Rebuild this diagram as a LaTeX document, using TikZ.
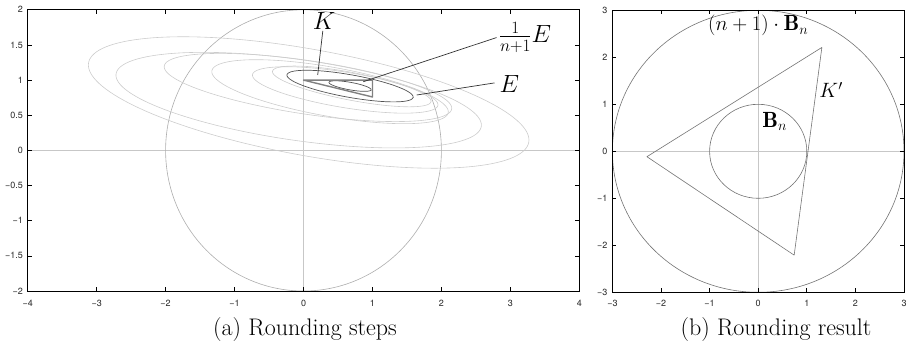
\documentclass[tikz,border=0pt]{standalone}
\usepackage{fontspec}
\newfontfamily\tickfont{TeX Gyre Heros}
\newcommand\myell[6]{\draw[#1] plot[domain=0:360,samples=150,variable=\t] ({#2+#4*cos(\t)},{#3+#5*cos(\t)+#6*sin(\t)}) -- cycle;}
\begin{document}
\begin{tikzpicture}[x=1pt,y=1pt,
  frame/.style={black, line width=0.9pt},
  tickmark/.style={black, line width=0.7pt},
  ticklab/.style={font=\tickfont\fontsize{9}{9}\selectfont, text=black!85, inner sep=0pt},
  axisline/.style={black!22, line width=0.6pt},
  iter/.style={black!20, line width=0.6pt},
  ballstyle/.style={black!32, line width=0.6pt},
  ellE/.style={black!68, line width=0.7pt},
  body/.style={black!50, line width=1.4pt},
  leader/.style={black!80, line width=0.7pt},
  lab/.style={font=\fontsize{26}{26}\selectfont, inner sep=0pt},
  labb/.style={font=\fontsize{22}{22}\selectfont, inner sep=0pt},
  captext/.style={font=\fontsize{24}{24}\selectfont, inner sep=0pt},
  curveb/.style={black!55, line width=0.6pt}
]
\useasboundingbox (0,0) rectangle (908,346);

% ---------------- left plot ----------------
\begin{scope}[shift={(303.5,195.6)}, x=68.95pt, y=70.3pt]
  \draw[axisline] (-4,0) -- (4,0);
  \draw[axisline] (0,-2) -- (0,2);
  \draw[ballstyle] (0,0) circle [x radius=2, y radius=2];
  \myell{iter}{0.075}{0.6815}{3.195}{-0.5335}{0.768}
  \myell{iter}{-0.07}{0.715}{2.65}{-0.355}{0.58}
  \myell{iter}{0.065}{0.895}{2.085}{-0.295}{0.385}
  \myell{iter}{0.385}{0.835}{1.715}{-0.285}{0.355}
  \myell{iter}{0.605}{0.86}{1.345}{-0.21}{0.255}
  \myell{iter}{0.7}{0.91}{1.15}{-0.21}{0.2}
  \myell{ellE}{0.675}{0.915}{0.915}{-0.155}{0.163}
  \myell{ellE}{0.675}{0.915}{0.305}{-0.0517}{0.0543}
  \draw[body, line join=round] (0,1) -- (1,1) -- (1,0.76) -- cycle;
  % frame and ticks
  \draw[frame] (-4,-2) rectangle (4,2);
  \foreach \v [count=\k] in {-3,-2,-1,0,1,2,3} {
    \draw[tickmark] (\v,-2) -- ++(0,0.057);
    \draw[tickmark] (\v,2) -- ++(0,-0.057);
  }
  \foreach \v in {-1.5,-1,-0.5,0,0.5,1,1.5} {
    \draw[tickmark] (-4,\v) -- ++(0.058,0);
    \draw[tickmark] (4,\v) -- ++(-0.058,0);
  }
  \foreach \v/\t [count=\k] in {-4/−4,-3/−3,-2/−2,-1/−1,0/0,1/1,2/2,3/3,4/4}
    \node[ticklab, anchor=north] (axl\k) at (\v,-2.12) {\t};
  \foreach \v/\t [count=\k] in {-2/−2,-1.5/−1.5,-1/−1,-0.5/−0.5,0/0,0.5/0.5,1/1,1.5/1.5,2/2}
    \node[ticklab, anchor=east] (ayl\k) at (-4.068,\v) {\t};
  % labels
  \node[lab, anchor=south] (Klab) at (0.30,1.71) {$K$};
  \coordinate (Kpt) at (0.206,1.073);
  \draw[leader] (Klab.south) ++(-0.02,-0.01) -- (Kpt);
  \node[lab, anchor=west] (fraclab) at (2.83,1.61) {$\frac{1}{n+1}E$};
  \coordinate (fracpt) at (0.867,0.977);
  \draw[leader] (fraclab.west) ++(-0.03,-0.005) -- (fracpt);
  \node[lab, anchor=west] (Elab) at (2.84,0.95) {$E$};
  \coordinate (Ept) at (1.642,0.788);
  \draw[leader] (Elab.west) ++(-0.07,0.01) -- (Ept);
\end{scope}
\node[captext, anchor=base] (capa) at (305,11) {(a) Rounding steps};

% ---------------- right plot ----------------
\begin{scope}[shift={(758.2,194.7)}, x=48.6pt, y=47pt]
  \draw[axisline] (-3,0) -- (3,0);
  \draw[axisline] (0,-3) -- (0,3);
  \draw[curveb] (0,0) circle [x radius=3, y radius=3];
  \draw[curveb] (0,0) circle [x radius=1, y radius=1];
  \draw[curveb, line join=round] (-2.29,-0.115) -- (1.31,2.21) -- (0.74,-2.21) -- cycle;
  \draw[frame] (-3,-3) rectangle (3,3);
  \foreach \v in {-2,-1,0,1,2} {
    \draw[tickmark] (\v,-3) -- ++(0,0.085);
    \draw[tickmark] (\v,3) -- ++(0,-0.085);
    \draw[tickmark] (-3,\v) -- ++(0.082,0);
    \draw[tickmark] (3,\v) -- ++(-0.082,0);
  }
  \foreach \v/\t [count=\k] in {-3/−3,-2/−2,-1/−1,0/0,1/1,2/2,3/3} {
    \node[ticklab, anchor=north] (bxl\k) at (\v,-3.17) {\t};
    \node[ticklab, anchor=east] (byl\k) at (-3.1,\v) {\t};
  }
  \node[labb] (bigball) at (0,2.67) {$(n+1)\cdot\mathbf{B}_n$};
  \node[labb] (Kp) at (1.5,1.3) {$K'$};
  \node[labb] (smallball) at (0.34,0.63) {$\mathbf{B}_n$};
\end{scope}
\node[captext, anchor=base] (capb) at (776,11) {(b) Rounding result};
\end{tikzpicture}
\end{document}
